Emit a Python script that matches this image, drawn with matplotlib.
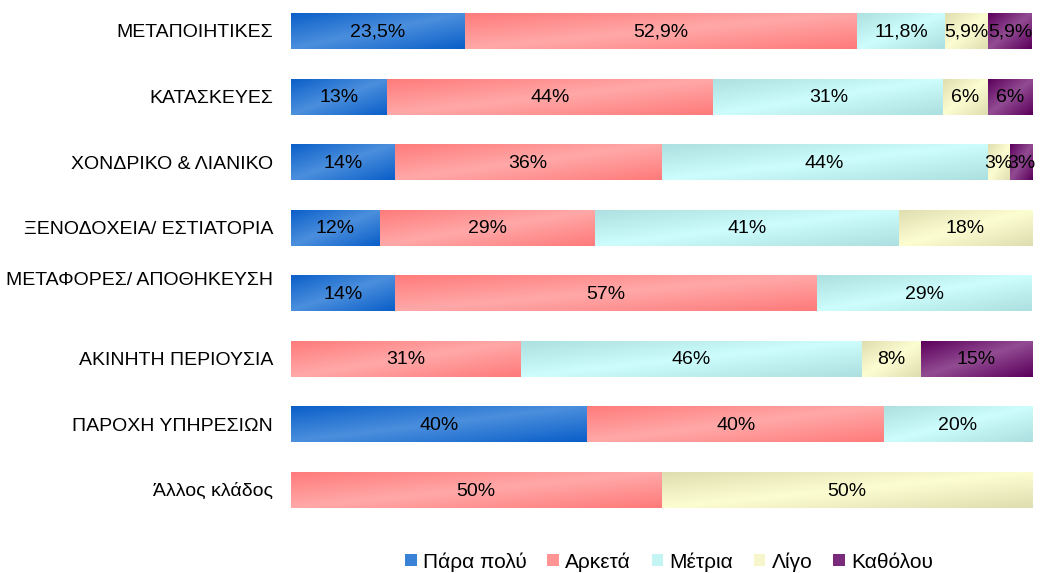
import numpy as np
import matplotlib
matplotlib.use("Agg")
import matplotlib.pyplot as plt
from matplotlib.colors import LinearSegmentedColormap
from matplotlib.transforms import ScaledTranslation

plt.rcParams['font.family'] = ['Liberation Sans', 'DejaVu Sans']

# categories (top to bottom)
categories = ["ΜΕΤΑΠΟΙΗΤΙΚΕΣ", "ΚΑΤΑΣΚΕΥΕΣ", "ΧΟΝΔΡΙΚΟ & ΛΙΑΝΙΚΟ",
              "ΞΕΝΟΔΟΧΕΙΑ/ ΕΣΤΙΑΤΟΡΙΑ", "ΜΕΤΑΦΟΡΕΣ/ ΑΠΟΘΗΚΕΥΣΗ",
              "ΑΚΙΝΗΤΗ ΠΕΡΙΟΥΣΙΑ", "ΠΑΡΟΧΗ ΥΠΗΡΕΣΙΩΝ", "Άλλος κλάδος"]
series_names = ["Πάρα πολύ", "Αρκετά", "Μέτρια", "Λίγο", "Καθόλου"]

para_poly = [23.5, 13, 14, 12, 14, 0, 40, 0]
arketa = [52.9, 44, 36, 29, 57, 31, 40, 50]
metria = [11.8, 31, 44, 41, 29, 46, 20, 0]
ligo = [5.9, 6, 3, 18, 0, 8, 0, 50]
katholou = [5.9, 6, 3, 0, 0, 15, 0, 0]

# printed labels (first row uses one decimal)
label_fmt = ["{:.1f}%", "{:.0f}%", "{:.0f}%", "{:.0f}%", "{:.0f}%", "{:.0f}%", "{:.0f}%", "{:.0f}%"]

series = [para_poly, arketa, metria, ligo, katholou]
# (dark, light, flat) colours for each series
colors = [("#0b5fc9", "#4b8fdd", "#3a82d6"),
          ("#ff7b7b", "#ffa8a8", "#ff9494"),
          ("#ade0e0", "#cdfdfd", "#c4f4f4"),
          ("#dedeb0", "#fdfdd2", "#f6f6ca"),
          ("#5c005c", "#924c92", "#7a2a7a")]

fig = plt.figure(figsize=(10.51, 5.73), dpi=100)
ax = fig.add_axes([0.2769, 0.0995, 0.7051, 0.8979])

y = np.arange(len(categories))
left = np.zeros(len(categories))
gx, gy = np.meshgrid(np.linspace(0, 1, 40), np.linspace(0, 1, 20))
shade = np.abs((gx + gy) / 2 - 0.5) * 2  # dark at corners, light along diagonal

for vals, name, (dark, light, flat) in zip(series, series_names, colors):
    vals = np.array(vals, dtype=float)
    bars = ax.barh(y, vals, left=left, height=0.55, color=flat, label=name,
                   edgecolor="none")
    cmap = LinearSegmentedColormap.from_list(name, [light, dark])
    for b, v, i in zip(bars, vals, y):
        if v <= 0:
            continue
        x0, y0, w, h = b.get_x(), b.get_y(), b.get_width(), b.get_height()
        im = ax.imshow(shade, cmap=cmap, vmin=0, vmax=1, aspect="auto",
                       extent=(x0, x0 + w, y0 + h, y0), interpolation="bilinear",
                       zorder=2)
        im.set_clip_path(b)
        ax.text(x0 + w / 2, i + 0.02, label_fmt[i].format(v).replace(".", ","),
                ha="center", va="center", fontsize=14, color="black", zorder=3)
    left += vals

ax.set_xlim(0, 100)
ax.set_ylim(7.4, -0.45)
ax.set_yticks(y)
ax.set_yticklabels(categories, fontsize=14)
ax.tick_params(axis="y", length=0, pad=13)
ax.set_xticks([])
for s in ax.spines.values():
    s.set_visible(False)

# the long label sits a bit higher than its bar in the original
lab = ax.get_yticklabels()[4]
lab.set_transform(lab.get_transform() + ScaledTranslation(0, 0.15, fig.dpi_scale_trans))

ax.legend(loc="center", bbox_to_anchor=(0.51, -0.089), ncol=5, frameon=False,
          fontsize=15, handlelength=0.55, handleheight=0.55, handletextpad=0.3,
          columnspacing=1.0)

fig.savefig("out.png", dpi=100)
